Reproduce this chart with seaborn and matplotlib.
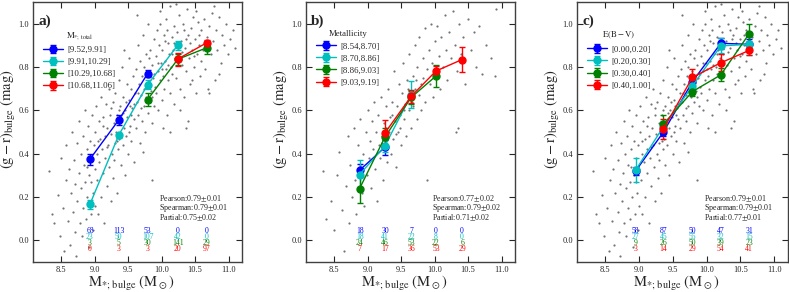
import numpy as np
import pandas as pd
import seaborn as sns
import matplotlib.pyplot as plt

# --- background galaxies ---
BG_X = [8.32, 8.36, 8.40, 8.45, 8.48, 8.50, 8.53, 8.55, 8.57, 8.58, 8.60, 8.62, 8.63, 8.65, 8.66, 8.68, 8.69, 8.70, 8.71, 8.72,
        8.73, 8.74, 8.76, 8.77, 8.78, 8.79, 8.80, 8.81, 8.82, 8.83, 8.84, 8.85, 8.86, 8.87, 8.88, 8.89, 8.90, 8.91, 8.92, 8.93,
        8.94, 8.95, 8.96, 8.97, 8.98, 8.99, 9.00, 9.00, 8.95, 8.88,
        9.01, 9.02, 9.03, 9.04, 9.05, 9.06, 9.07, 9.08, 9.09, 9.10, 9.11, 9.12, 9.13, 9.14, 9.15, 9.16, 9.17, 9.18, 9.19, 9.20,
        9.21, 9.22, 9.23, 9.24, 9.25, 9.26, 9.27, 9.28, 9.29, 9.30, 9.12, 9.18, 9.05, 9.24, 9.29,
        9.31, 9.32, 9.33, 9.34, 9.35, 9.36, 9.37, 9.38, 9.39, 9.40, 9.41, 9.42, 9.43, 9.44, 9.45, 9.46, 9.47, 9.48, 9.49, 9.50,
        9.51, 9.52, 9.53, 9.54, 9.55, 9.56, 9.57, 9.58, 9.59, 9.60, 9.34, 9.38, 9.43, 9.47, 9.51, 9.55, 9.58, 9.44, 9.36, 9.53,
        9.61, 9.62, 9.63, 9.64, 9.65, 9.66, 9.67, 9.68, 9.69, 9.70, 9.71, 9.72, 9.73, 9.74, 9.75, 9.76, 9.77, 9.78, 9.79, 9.80,
        9.81, 9.82, 9.83, 9.84, 9.85, 9.86, 9.87, 9.88, 9.89, 9.90, 9.65, 9.69, 9.73, 9.77, 9.81, 9.85, 9.88, 9.72, 9.86, 9.63,
        9.91, 9.92, 9.93, 9.94, 9.95, 9.96, 9.97, 9.98, 9.99, 10.00, 10.01, 10.02, 10.03, 10.04, 10.05, 10.06, 10.07, 10.08,
        10.09, 10.10, 10.11, 10.12, 10.13, 10.14, 10.15, 10.16, 10.17, 10.18, 10.19, 10.20, 9.95, 10.00, 10.05, 10.10, 10.15,
        10.02, 10.13, 9.97, 10.08, 10.18,
        10.21, 10.23, 10.24, 10.26, 10.27, 10.29, 10.30, 10.32, 10.33, 10.35, 10.36, 10.38, 10.39, 10.41, 10.42, 10.44, 10.45,
        10.47, 10.48, 10.50, 10.51, 10.53, 10.54, 10.56, 10.57, 10.59, 10.25, 10.31, 10.37, 10.43, 10.49, 10.55, 10.28, 10.40,
        10.22, 10.46, 10.34, 10.52, 10.58, 10.36,
        10.61, 10.63, 10.65, 10.67, 10.69, 10.71, 10.73, 10.75, 10.77, 10.79, 10.81, 10.83, 10.86, 10.88, 10.90, 10.93, 10.96,
        10.99, 11.02, 11.06, 10.70, 10.85, 10.64, 10.78, 11.10]
BG_Y = [0.32, 0.12, 0.08, 0.21, 0.02, 0.38, 0.15, -0.05, 0.28, 0.44, 0.09, 0.33, -0.02, 0.22, 0.50, 0.13, 0.37, 0.04, 0.26, -0.07,
        0.45, 0.18, 0.31, 0.55, 0.08, 0.40, 0.24, 0.02, 0.48, 0.15, 0.35, 0.60, 0.27, 0.10, 0.42, 0.20, 0.53, -0.03, 0.30, 0.46,
        0.12, 0.38, 0.58, 0.22, 0.05, 0.44, 0.33, 0.16, 0.27, 0.34,
        0.50, 0.62, 0.28, 0.40, 0.12, 0.55, 0.36, 0.47, 0.20, 0.66, 0.42, 0.31, 0.57, 0.08, 0.48, 0.38, 0.63, 0.25, 0.52, 0.44,
        0.70, 0.34, 0.58, 0.18, 0.49, 0.40, 0.64, 0.29, 0.54, 0.45, 0.53, 0.43, 0.46, 0.61, 0.37,
        0.68, 0.50, 0.22, 0.58, 0.42, 0.74, 0.47, 0.62, 0.35, 0.55, 0.80, 0.44, 0.66, 0.52, 0.30, 0.60, 0.48, 0.72, 0.57, 0.40,
        0.65, 0.84, 0.53, 0.70, 0.46, 0.61, 0.76, 0.56, 0.36, 0.68, 0.46, 0.54, 0.59, 0.64, 0.50, 0.58, 0.63, 0.88, 0.60, 0.62,
        0.52, 0.79, 0.64, 0.90, 0.58, 0.72, 0.45, 0.83, 0.67, 0.55, 0.76, 0.95, 0.62, 0.70, 0.50, 0.86, 0.66, 0.78, 0.59, 1.00,
        0.73, 0.64, 0.88, 0.69, 0.54, 0.81, 0.75, 0.93, 0.62, 0.71, 0.68, 0.61, 0.80, 0.72, 0.84, 0.66, 0.77, 0.41, 0.28, 1.04,
        0.85, 0.68, 0.97, 0.78, 0.60, 0.90, 0.74, 1.06, 0.82, 0.65, 0.88, 0.76, 0.95, 0.70, 0.83, 1.02, 0.79, 0.58,
        0.91, 0.74, 0.86, 1.08, 0.68, 0.80, 0.94, 0.77, 0.88, 0.63, 0.99, 0.84, 0.82, 0.79, 0.92, 0.81, 0.86,
        0.52, 0.50, 1.00, 0.97, 0.91,
        0.75, 0.96, 0.86, 1.04, 0.70, 0.92, 0.81, 1.00, 0.66, 0.89, 0.78, 1.07, 0.95, 0.84, 0.72, 0.98, 0.88,
        1.03, 0.80, 0.93, 0.68, 0.86, 1.01, 0.90, 0.76, 0.97, 0.90, 0.87, 0.93, 0.91, 0.85, 0.95, 0.60, 0.55,
        1.09, 0.74, 0.97, 1.06, 0.83, 0.52,
        0.88, 1.02, 0.79, 0.94, 0.70, 0.99, 0.86, 1.05, 0.92, 0.74, 0.97, 0.88, 1.03, 0.82, 0.95, 0.90, 1.00,
        0.86, 0.93, 0.97, 0.68, 0.77, 0.91, 1.08, 0.89]

# panel b has fewer galaxies (metallicity available)
BGB_X = [8.33, 8.38, 8.45, 8.50, 8.55, 8.58, 8.62, 8.64, 8.67, 8.70, 8.72, 8.74, 8.77, 8.79, 8.81, 8.83, 8.85, 8.87, 8.89,
         8.91, 8.93, 8.95, 8.97, 8.99, 9.01, 9.02, 9.04, 9.05, 9.07, 9.08, 9.10, 9.11, 9.13, 9.14, 9.16, 9.17, 9.19, 9.20,
         9.22, 9.23, 9.25, 9.26, 9.28, 9.29, 9.31, 9.32, 9.34, 9.35, 9.37, 9.38, 9.40, 9.41, 9.43, 9.44, 9.46, 9.47, 9.49,
         9.50, 9.52, 9.53, 9.55, 9.56, 9.58, 9.59, 9.61, 9.62, 9.64, 9.65, 9.67, 9.68, 9.70, 9.71, 9.73, 9.74, 9.76, 9.77,
         9.79, 9.80, 9.82, 9.83, 9.85, 9.86, 9.88, 9.89, 9.91, 9.93, 9.95, 9.96, 9.98, 10.00, 10.02, 10.04, 10.06, 10.08,
         10.10, 10.12, 10.15, 10.17, 10.19, 10.22, 10.25, 10.28, 10.31, 10.34, 10.37, 10.40, 10.43, 10.46, 10.50, 10.54,
         10.58, 10.62, 10.66, 10.70, 10.76, 10.84, 10.90, 10.92, 10.35, 10.32, 9.36, 9.42, 9.48, 9.54, 9.21, 9.27, 9.60,
         9.66, 9.72]
BGB_Y = [0.32, 0.10, 0.18, 0.05, 0.30, 0.41, 0.14, -0.05, 0.25, 0.48, 0.08, 0.35, 0.20, 0.52, 0.28, 0.12, 0.44, 0.33, 0.56,
         0.22, 0.40, 0.16, 0.50, 0.30, 0.60, 0.38, 0.46, 0.24, 0.55, 0.42, 0.64, 0.33, 0.50, 0.18, 0.58, 0.44, 0.38, 0.66,
         0.48, 0.28, 0.54, 0.43, 0.62, 0.36, 0.70, 0.50, 0.57, 0.40, 0.64, 0.47, 0.78, 0.55, 0.34, 0.62, 0.50, 0.72, 0.58,
         0.44, 0.68, 0.82, 0.56, 0.63, 0.48, 0.74, 0.60, 0.86, 0.66, 0.52, 0.76, 0.62, 0.90, 0.70, 0.56, 0.80, 0.67, 0.94,
         0.72, 0.60, 0.84, 0.75, 0.98, 0.64, 0.79, 0.28, 0.88, 0.72, 1.00, 0.82, 0.66, 0.92, 0.78, 0.99, 0.85, 0.70,
         0.94, 0.80, 1.04, 0.88, 0.74, 0.96, 0.84, 1.06, 0.90, 0.78, 1.00, 0.86, 0.94, 0.72, 1.02, 0.88,
         0.96, 0.80, 0.99, 0.77, 0.90, 0.84, 0.76, 1.07, 0.52, 0.50, 0.58, 0.49, 0.52, 0.60, 0.45, 0.52, 0.70,
         0.64, 0.74]

COLORS = ["blue", "c", "g", "red"]

# --- panel a: binned by total stellar mass ---
BINS_A = [8.93, 9.36, 9.79, 10.24, 10.67]
LABELS_A = ["[9.52,9.91]", "[9.91,10.29]", "[10.29,10.68]", "[10.68,11.06]"]
MEAN_A = [[0.375, 0.556, 0.770, np.nan, np.nan],
          [0.167, 0.486, 0.719, 0.901, np.nan],
          [np.nan, np.nan, 0.650, 0.836, 0.889],
          [np.nan, np.nan, np.nan, 0.837, 0.912]]
ERR_A = [[0.025, 0.022, 0.018, 0, 0],
         [0.020, 0.012, 0.020, 0.020, 0],
         [0, 0, 0.030, 0.025, 0.030],
         [0, 0, 0, 0.030, 0.015]]
COUNTS_A = [[68, 113, 53, 0, 0], [23, 50, 107, 42, 0], [3, 5, 30, 141, 29], [0, 3, 3, 20, 97]]
STATS_A = ["Pearson:0.79$\\pm$0.01", "Spearman:0.79$\\pm$0.01", "Partial:0.75$\\pm$0.02"]

# --- panel b: binned by metallicity ---
BINS_B = [8.88, 9.26, 9.65, 10.02, 10.41]
LABELS_B = ["[8.54,8.70]", "[8.70,8.86]", "[8.86,9.03]", "[9.03,9.19]"]
MEAN_B = [[0.324, 0.430, np.nan, np.nan, np.nan],
          [0.304, 0.437, 0.672, np.nan, np.nan],
          [0.239, 0.478, 0.660, 0.759, np.nan],
          [np.nan, 0.497, 0.665, 0.782, 0.835]]
ERR_B = [[0.030, 0.035, 0, 0, 0],
         [0.065, 0.030, 0.062, 0, 0],
         [0.065, 0.040, 0.030, 0.050, 0],
         [0, 0.058, 0.030, 0.025, 0.058]]
COUNTS_B = [[18, 30, 7, 0, 0], [18, 41, 22, 8, 0], [24, 46, 53, 22, 6], [7, 17, 36, 53, 29]]
STATS_B = ["Pearson:0.77$\\pm$0.02", "Spearman:0.79$\\pm$0.02", "Partial:0.71$\\pm$0.02"]

# --- panel c: binned by E(B-V) ---
BINS_C = [8.95, 9.36, 9.79, 10.21, 10.63]
LABELS_C = ["[0.00,0.20]", "[0.20,0.30]", "[0.30,0.40]", "[0.40,1.00]"]
MEAN_C = [[0.321, 0.500, 0.733, 0.910, 0.905],
          [0.325, 0.525, 0.713, 0.898, 0.905],
          [np.nan, 0.537, 0.687, 0.764, 0.954],
          [np.nan, 0.514, 0.753, 0.820, 0.877]]
ERR_C = [[0.020, 0.020, 0.020, 0.025, 0.025],
         [0.055, 0.025, 0.020, 0.035, 0.050],
         [0, 0.040, 0.020, 0.030, 0.045],
         [0, 0.045, 0.040, 0.040, 0.020]]
COUNTS_C = [[58, 87, 50, 47, 31], [27, 45, 55, 32, 15], [9, 26, 50, 39, 23], [3, 14, 29, 54, 41]]
STATS_C = ["Pearson:0.79$\\pm$0.01", "Spearman:0.79$\\pm$0.01", "Partial:0.77$\\pm$0.01"]

sns.set_style("ticks")
plt.rcParams['font.family'] = ['Liberation Serif', 'DejaVu Serif']
plt.rcParams['mathtext.fontset'] = 'stix'
plt.rcParams['xtick.direction'] = 'in'
plt.rcParams['ytick.direction'] = 'in'


def draw_panel(ax, bg_x, bg_y, bins, labels, means, errs, counts, stats, tag, title):
    bg = pd.DataFrame({"m": bg_x, "gr": bg_y})
    sns.scatterplot(data=bg, x="m", y="gr", s=2.5, color="0.45", linewidth=0, ax=ax, legend=False)
    for col, lab, mu, er in zip(COLORS, labels, means, errs):
        ax.errorbar(bins, mu, yerr=er, fmt='o-', color=col, mec=col, ms=5, lw=1,
                    capsize=2.5, elinewidth=1, label=lab)
    # galaxy numbers per bin
    for i, (col, row) in enumerate(zip(COLORS, counts)):
        for xb, n in zip(bins, row):
            ax.text(xb, 0.043 - 0.028 * i, str(n), color=col, fontsize=5.5, ha='center', va='center')
    for i, s in enumerate(stats):
        ax.text(9.96, 0.19 - 0.042 * i, s, fontsize=5.8, ha='left', va='center')
    ax.text(0.025, 0.925, tag, transform=ax.transAxes, fontsize=11, fontweight='bold', va='center')
    ax.legend(loc='upper left', bbox_to_anchor=(0.02, 0.915), frameon=False, fontsize=6.3,
              title=title, title_fontsize=6.3, handlelength=2.2, labelspacing=0.45,
              borderaxespad=0.3, handletextpad=0.5)
    ax.set_xlim(8.08, 11.2)
    ax.set_ylim(-0.1, 1.1)
    ax.set_xticks([8.5, 9.0, 9.5, 10.0, 10.5, 11.0])
    ax.set_yticks([0.0, 0.2, 0.4, 0.6, 0.8, 1.0])
    ax.tick_params(labelsize=6, top=True, right=True, length=4, width=0.8, pad=3)
    for sp in ax.spines.values():
        sp.set_linewidth(1.0)
        sp.set_color('0.25')
    ax.set_xlabel(r'$\mathrm{M_{*;\,bulge}\ (M_\odot)}$', fontsize=10.5)
    ax.set_ylabel(r'$\mathrm{(g-r)_{bulge}\ (mag)}$', fontsize=10.5)
    ax.xaxis.set_label_coords(0.47, -0.048)
    ax.yaxis.set_label_coords(-0.07, 0.55)


fig = plt.figure(figsize=(7.89, 2.92), dpi=100)
ax_a = fig.add_axes([0.0418, 0.1027, 0.265, 0.890])
ax_b = fig.add_axes([0.3878, 0.1027, 0.265, 0.890])
ax_c = fig.add_axes([0.7313, 0.1027, 0.2670, 0.890])

draw_panel(ax_a, BG_X, BG_Y, BINS_A, LABELS_A, MEAN_A, ERR_A, COUNTS_A, STATS_A, "a)", r'$\mathrm{M_{*;\,total}}$')
draw_panel(ax_b, BGB_X, BGB_Y, BINS_B, LABELS_B, MEAN_B, ERR_B, COUNTS_B, STATS_B, "b)", "Metallicity")
draw_panel(ax_c, BG_X, BG_Y, BINS_C, LABELS_C, MEAN_C, ERR_C, COUNTS_C, STATS_C, "c)", r'$\mathrm{E(B-V)}$')

fig.savefig("out.png", dpi=100)
